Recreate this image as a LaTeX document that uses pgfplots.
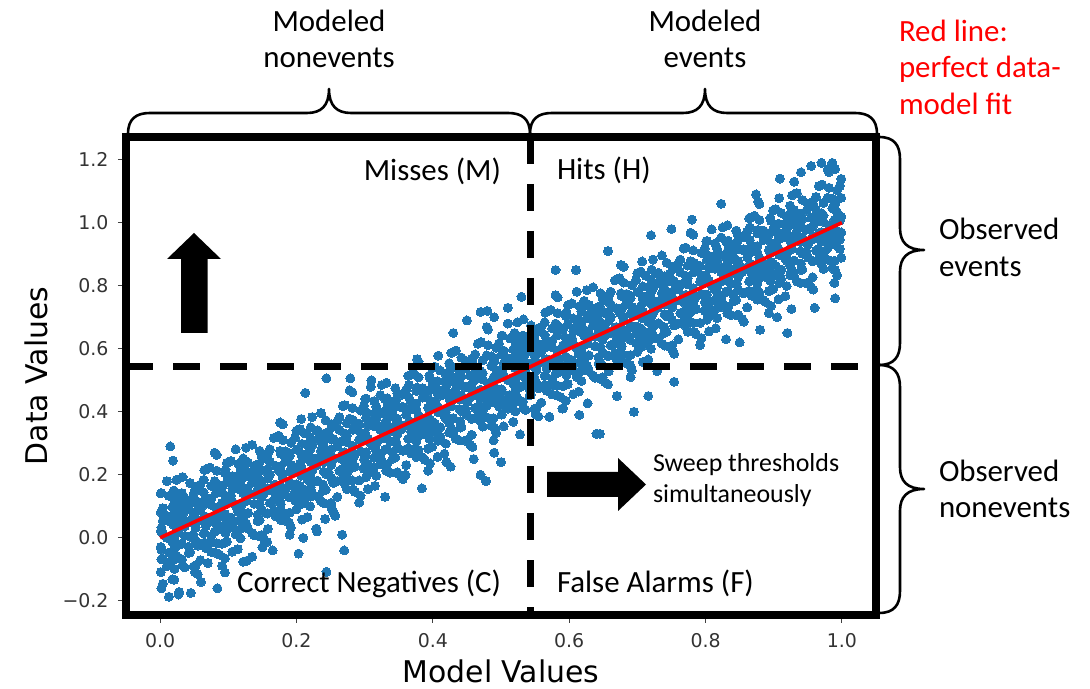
\documentclass[border=0pt]{standalone}
\usepackage{pgfplots}
\pgfplotsset{compat=1.18}
\usepackage{pgfplotstable}
\usepackage{fontspec}
\setmainfont{Carlito}
\newfontfamily\djv{DejaVu Sans}
\definecolor{mblue}{HTML}{1F77B4}

\pgfplotstableread{
x a b c d e
0.001 -0.029 0.081 -0.109 0.021 0.141
0.004 0.054 -0.066 0.014 -0.146 0.094
0.013 0.003 0.133 -0.047 0.053 -0.077
0.021 0.121 0.001 0.081 -0.099 -0.019
0.024 -0.056 0.054 0.184 0.014 0.094
0.032 0.052 -0.068 0.112 -0.018 0.142
0.036 -0.094 0.036 0.086 0.126 0.006
0.044 0.114 0.004 -0.046 0.174 0.054
0.052 -0.008 0.162 0.082 0.032 -0.088
0.055 0.055 -0.025 0.155 0.115 -0.115
0.064 0.184 0.014 0.054 0.104 0.144
0.067 -0.033 0.127 0.037 0.217 0.067
0.075 0.105 -0.045 0.165 0.005 0.125
0.083 0.043 0.093 0.213 -0.017 0.263
0.087 0.167 -0.053 0.067 0.157 0.027
0.095 0.075 0.135 -0.065 0.205 0.115
0.098 0.068 0.178 -0.012 0.118 0.238
0.106 0.156 0.036 0.116 -0.044 0.196
0.115 0.105 0.235 0.055 0.155 0.025
0.118 0.218 0.098 0.178 -0.002 0.078
0.126 0.046 0.156 0.286 0.116 0.196
0.129 0.149 0.029 0.209 0.079 0.239
0.138 0.008 0.138 0.188 0.228 0.108
0.146 0.216 0.106 0.056 0.276 0.156
0.149 0.089 0.259 0.179 0.129 0.009
0.157 0.157 0.077 0.257 0.217 -0.013
0.161 0.281 0.111 0.151 0.201 0.241
0.169 0.069 0.229 0.139 0.319 0.169
0.177 0.207 0.057 0.267 0.107 0.227
0.180 0.140 0.190 0.310 0.080 0.360
0.189 0.269 0.049 0.169 0.259 0.129
0.192 0.172 0.232 0.032 0.302 0.212
0.200 0.170 0.280 0.090 0.220 0.340
0.208 0.258 0.138 0.218 0.058 0.298
0.212 0.202 0.332 0.152 0.252 0.122
0.220 0.320 0.200 0.280 0.100 0.180
0.223 0.143 0.253 0.383 0.213 0.293
0.231 0.251 0.131 0.311 0.181 0.341
0.240 0.110 0.240 0.290 0.330 0.210
0.243 0.313 0.203 0.153 0.373 0.253
0.251 0.191 0.361 0.281 0.231 0.111
0.254 0.254 0.174 0.354 0.314 0.084
0.263 0.383 0.213 0.253 0.303 0.343
0.271 0.171 0.331 0.241 0.421 0.271
0.274 0.304 0.154 0.364 0.204 0.324
0.282 0.242 0.292 0.412 0.182 0.462
0.286 0.366 0.146 0.266 0.356 0.226
0.294 0.274 0.334 0.134 0.404 0.314
0.302 0.272 0.382 0.192 0.322 0.442
0.305 0.355 0.235 0.315 0.155 0.395
0.314 0.304 0.434 0.254 0.354 0.224
0.317 0.417 0.297 0.377 0.197 0.277
0.325 0.245 0.355 0.485 0.315 0.395
0.333 0.353 0.233 0.413 0.283 0.443
0.337 0.207 0.337 0.387 0.427 0.307
0.345 0.415 0.305 0.255 0.475 0.355
0.348 0.288 0.458 0.378 0.328 0.208
0.356 0.356 0.276 0.456 0.416 0.186
0.365 0.485 0.315 0.355 0.405 0.445
0.368 0.268 0.428 0.338 0.518 0.368
0.376 0.406 0.256 0.466 0.306 0.426
0.379 0.339 0.389 0.509 0.279 0.559
0.388 0.468 0.248 0.368 0.458 0.328
0.396 0.376 0.436 0.236 0.506 0.416
0.399 0.369 0.479 0.289 0.419 0.539
0.407 0.457 0.337 0.417 0.257 0.497
0.411 0.401 0.531 0.351 0.451 0.321
0.419 0.519 0.399 0.479 0.299 0.379
0.427 0.347 0.457 0.587 0.417 0.497
0.430 0.450 0.330 0.510 0.380 0.540
0.439 0.309 0.439 0.489 0.529 0.409
0.442 0.512 0.402 0.352 0.572 0.452
0.450 0.390 0.560 0.480 0.430 0.310
0.458 0.458 0.378 0.558 0.518 0.288
0.462 0.582 0.412 0.452 0.502 0.542
0.470 0.370 0.530 0.440 0.620 0.470
0.473 0.503 0.353 0.563 0.403 0.523
0.481 0.441 0.491 0.611 0.381 0.661
0.490 0.570 0.350 0.470 0.560 0.430
0.493 0.473 0.533 0.333 0.603 0.513
0.501 0.471 0.581 0.391 0.521 0.641
0.504 0.554 0.434 0.514 0.354 0.594
0.513 0.503 0.633 0.453 0.553 0.423
0.521 0.621 0.501 0.581 0.401 0.481
0.524 0.444 0.554 0.684 0.514 0.594
0.532 0.552 0.432 0.612 0.482 0.642
0.536 0.406 0.536 0.586 0.626 0.506
0.544 0.614 0.504 0.454 0.674 0.554
0.552 0.492 0.662 0.582 0.532 0.412
0.555 0.555 0.475 0.655 0.615 0.385
0.564 0.684 0.514 0.554 0.604 0.644
0.567 0.467 0.627 0.537 0.717 0.567
0.575 0.605 0.455 0.665 0.505 0.625
0.583 0.543 0.593 0.713 0.483 0.763
0.587 0.667 0.447 0.567 0.657 0.527
0.595 0.575 0.635 0.435 0.705 0.615
0.598 0.568 0.678 0.488 0.618 0.738
0.606 0.656 0.536 0.616 0.456 0.696
0.615 0.605 0.735 0.555 0.655 0.525
0.618 0.718 0.598 0.678 0.498 0.578
0.626 0.546 0.656 0.786 0.616 0.696
0.629 0.649 0.529 0.709 0.579 0.739
0.638 0.508 0.638 0.688 0.728 0.608
0.646 0.716 0.606 0.556 0.776 0.656
0.649 0.589 0.759 0.679 0.629 0.509
0.657 0.657 0.577 0.757 0.717 0.487
0.661 0.781 0.611 0.651 0.701 0.741
0.669 0.569 0.729 0.639 0.819 0.669
0.677 0.707 0.557 0.767 0.607 0.727
0.680 0.640 0.690 0.810 0.580 0.860
0.689 0.769 0.549 0.669 0.759 0.629
0.692 0.672 0.732 0.532 0.802 0.712
0.700 0.670 0.780 0.590 0.720 0.840
0.708 0.758 0.638 0.718 0.558 0.798
0.712 0.702 0.832 0.652 0.752 0.622
0.720 0.820 0.700 0.780 0.600 0.680
0.723 0.643 0.753 0.883 0.713 0.793
0.731 0.751 0.631 0.811 0.681 0.841
0.740 0.610 0.740 0.790 0.830 0.710
0.743 0.813 0.703 0.653 0.873 0.753
0.751 0.691 0.861 0.781 0.731 0.611
0.754 0.754 0.674 0.854 0.814 0.584
0.763 0.883 0.713 0.753 0.803 0.843
0.771 0.671 0.831 0.741 0.921 0.771
0.774 0.804 0.654 0.864 0.704 0.824
0.782 0.742 0.792 0.912 0.682 0.962
0.786 0.866 0.646 0.766 0.856 0.726
0.794 0.774 0.834 0.634 0.904 0.814
0.802 0.772 0.882 0.692 0.822 0.942
0.805 0.855 0.735 0.815 0.655 0.895
0.814 0.804 0.934 0.754 0.854 0.724
0.817 0.917 0.797 0.877 0.697 0.777
0.825 0.745 0.855 0.985 0.815 0.895
0.833 0.853 0.733 0.913 0.783 0.943
0.837 0.707 0.837 0.887 0.927 0.807
0.845 0.915 0.805 0.755 0.975 0.855
0.848 0.788 0.958 0.878 0.828 0.708
0.856 0.856 0.776 0.956 0.916 0.686
0.865 0.985 0.815 0.855 0.905 0.945
0.868 0.768 0.928 0.838 1.018 0.868
0.876 0.906 0.756 0.966 0.806 0.926
0.879 0.839 0.889 1.009 0.779 1.059
0.888 0.968 0.748 0.868 0.958 0.828
0.896 0.876 0.936 0.736 1.006 0.916
0.899 0.869 0.979 0.789 0.919 1.039
0.907 0.957 0.837 0.917 0.757 0.997
0.911 0.901 1.031 0.851 0.951 0.821
0.919 1.019 0.899 0.979 0.799 0.879
0.927 0.847 0.957 1.087 0.917 0.997
0.930 0.950 0.830 1.010 0.880 1.040
0.939 0.809 0.939 0.989 1.029 0.909
0.942 1.012 0.902 0.852 1.072 0.952
0.950 0.890 1.060 0.980 0.930 0.810
0.958 0.958 0.878 1.058 1.018 0.788
0.962 1.082 0.912 0.952 1.002 1.042
0.970 0.870 1.030 0.940 1.120 0.970
0.973 1.003 0.853 1.063 0.903 1.023
0.981 0.941 0.991 1.111 0.881 1.161
0.990 1.070 0.850 0.970 1.060 0.930
0.993 0.973 1.033 0.833 1.103 1.013
0.999 0.969 1.079 0.889 1.019 1.139
}\tA

\pgfplotstableread{
x a b c d
0.002 -0.068 0.142 -0.038 0.032
0.010 0.070 0.000 -0.090 0.180
0.018 -0.012 0.098 -0.132 0.068
0.020 0.150 -0.040 0.040 -0.070
0.028 -0.022 0.028 0.138 -0.172
0.033 0.103 -0.087 0.073 0.193
0.042 -0.048 0.092 -0.028 0.052
0.049 0.079 0.139 -0.091 0.009
0.051 0.041 -0.109 0.111 0.151
0.059 0.169 0.089 -0.021 -0.071
0.065 -0.015 0.215 0.065 0.015
0.073 0.113 -0.017 0.223 0.053
0.080 0.020 0.180 0.070 0.270
0.082 0.172 0.052 -0.048 0.142
0.091 -0.019 0.111 0.161 -0.089
0.096 0.106 0.046 0.216 0.016
0.104 0.034 0.244 0.064 0.134
0.111 0.171 0.101 0.011 0.281
0.114 0.084 0.194 -0.036 0.164
0.122 0.252 0.062 0.142 0.032
0.127 0.077 0.127 0.237 -0.073
0.135 0.205 0.015 0.175 0.295
0.143 0.053 0.193 0.073 0.153
0.145 0.175 0.235 0.005 0.105
0.153 0.143 -0.007 0.213 0.253
0.158 0.268 0.188 0.078 0.028
0.167 0.087 0.317 0.167 0.117
0.174 0.214 0.084 0.324 0.154
0.176 0.116 0.276 0.166 0.366
0.184 0.274 0.154 0.054 0.244
0.190 0.080 0.210 0.260 0.010
0.198 0.208 0.148 0.318 0.118
0.205 0.135 0.345 0.165 0.235
0.207 0.267 0.197 0.107 0.377
0.216 0.186 0.296 0.066 0.266
0.221 0.351 0.161 0.241 0.131
0.229 0.179 0.229 0.339 0.029
0.236 0.306 0.116 0.276 0.396
0.239 0.149 0.289 0.169 0.249
0.247 0.277 0.337 0.107 0.207
0.252 0.242 0.092 0.312 0.352
0.260 0.370 0.290 0.180 0.130
0.268 0.188 0.418 0.268 0.218
0.270 0.310 0.180 0.420 0.250
0.278 0.218 0.378 0.268 0.468
0.283 0.373 0.253 0.153 0.343
0.292 0.182 0.312 0.362 0.112
0.299 0.309 0.249 0.419 0.219
0.301 0.231 0.441 0.261 0.331
0.309 0.369 0.299 0.209 0.479
0.315 0.285 0.395 0.165 0.365
0.323 0.453 0.263 0.343 0.233
0.330 0.280 0.330 0.440 0.130
0.332 0.402 0.212 0.372 0.492
0.341 0.251 0.391 0.271 0.351
0.346 0.376 0.436 0.206 0.306
0.354 0.344 0.194 0.414 0.454
0.361 0.471 0.391 0.281 0.231
0.364 0.284 0.514 0.364 0.314
0.372 0.412 0.282 0.522 0.352
0.377 0.317 0.477 0.367 0.567
0.385 0.475 0.355 0.255 0.445
0.393 0.283 0.413 0.463 0.213
0.395 0.405 0.345 0.515 0.315
0.403 0.333 0.543 0.363 0.433
0.408 0.468 0.398 0.308 0.578
0.417 0.387 0.497 0.267 0.467
0.424 0.554 0.364 0.444 0.334
0.426 0.376 0.426 0.536 0.226
0.434 0.504 0.314 0.474 0.594
0.440 0.350 0.490 0.370 0.450
0.448 0.478 0.538 0.308 0.408
0.455 0.445 0.295 0.515 0.555
0.457 0.567 0.487 0.377 0.327
0.466 0.386 0.616 0.466 0.416
0.471 0.511 0.381 0.621 0.451
0.479 0.419 0.579 0.469 0.669
0.486 0.576 0.456 0.356 0.546
0.489 0.379 0.509 0.559 0.309
0.497 0.507 0.447 0.617 0.417
0.502 0.432 0.642 0.462 0.532
0.510 0.570 0.500 0.410 0.680
0.518 0.488 0.598 0.368 0.568
0.520 0.650 0.460 0.540 0.430
0.528 0.478 0.528 0.638 0.328
0.533 0.603 0.413 0.573 0.693
0.542 0.452 0.592 0.472 0.552
0.549 0.579 0.639 0.409 0.509
0.551 0.541 0.391 0.611 0.651
0.559 0.669 0.589 0.479 0.429
0.565 0.485 0.715 0.565 0.515
0.573 0.613 0.483 0.723 0.553
0.580 0.520 0.680 0.570 0.770
0.582 0.672 0.552 0.452 0.642
0.591 0.481 0.611 0.661 0.411
0.596 0.606 0.546 0.716 0.516
0.604 0.534 0.744 0.564 0.634
0.611 0.671 0.601 0.511 0.781
0.614 0.584 0.694 0.464 0.664
0.622 0.752 0.562 0.642 0.532
0.627 0.577 0.627 0.737 0.427
0.635 0.705 0.515 0.675 0.795
0.643 0.553 0.693 0.573 0.653
0.645 0.675 0.735 0.505 0.605
0.653 0.643 0.493 0.713 0.753
0.658 0.768 0.688 0.578 0.528
0.667 0.587 0.817 0.667 0.617
0.674 0.714 0.584 0.824 0.654
0.676 0.616 0.776 0.666 0.866
0.684 0.774 0.654 0.554 0.744
0.690 0.580 0.710 0.760 0.510
0.698 0.708 0.648 0.818 0.618
0.705 0.635 0.845 0.665 0.735
0.707 0.767 0.697 0.607 0.877
0.716 0.686 0.796 0.566 0.766
0.721 0.851 0.661 0.741 0.631
0.729 0.679 0.729 0.839 0.529
0.736 0.806 0.616 0.776 0.896
0.739 0.649 0.789 0.669 0.749
0.747 0.777 0.837 0.607 0.707
0.752 0.742 0.592 0.812 0.852
0.760 0.870 0.790 0.680 0.630
0.768 0.688 0.918 0.768 0.718
0.770 0.810 0.680 0.920 0.750
0.778 0.718 0.878 0.768 0.968
0.783 0.873 0.753 0.653 0.843
0.792 0.682 0.812 0.862 0.612
0.799 0.809 0.749 0.919 0.719
0.801 0.731 0.941 0.761 0.831
0.809 0.869 0.799 0.709 0.979
0.815 0.785 0.895 0.665 0.865
0.823 0.953 0.763 0.843 0.733
0.830 0.780 0.830 0.940 0.630
0.832 0.902 0.712 0.872 0.992
0.841 0.751 0.891 0.771 0.851
0.846 0.876 0.936 0.706 0.806
0.854 0.844 0.694 0.914 0.954
0.861 0.971 0.891 0.781 0.731
0.864 0.784 1.014 0.864 0.814
0.872 0.912 0.782 1.022 0.852
0.877 0.817 0.977 0.867 1.067
0.885 0.975 0.855 0.755 0.945
0.893 0.783 0.913 0.963 0.713
0.895 0.905 0.845 1.015 0.815
0.903 0.833 1.043 0.863 0.933
0.908 0.968 0.898 0.808 1.078
0.917 0.887 0.997 0.767 0.967
0.924 1.054 0.864 0.944 0.834
0.926 0.876 0.926 1.036 0.726
0.934 1.004 0.814 0.974 1.094
0.940 0.850 0.990 0.870 0.950
0.948 0.978 1.038 0.808 0.908
0.955 0.945 0.795 1.015 1.055
0.957 1.067 0.987 0.877 0.827
0.966 0.886 1.116 0.966 0.916
0.971 1.011 0.881 1.121 0.951
0.979 0.919 1.079 0.969 1.169
0.986 1.076 0.956 0.856 1.046
0.989 0.879 1.009 1.059 0.809
0.997 1.007 0.947 1.117 0.917
}\tB

\pgfplotstableread{
x y
0.002 -0.160
0.013 -0.187
0.027 -0.180
0.021 -0.133
0.084 -0.160
0.070 -0.080
0.122 -0.076
0.135 -0.060
0.150 -0.030
0.165 -0.040
0.045 -0.175
0.060 -0.140
0.095 -0.110
0.203 -0.050
0.244 -0.108
0.267 0.010
0.270 -0.040
0.257 0.070
0.242 0.060
0.230 0.020
0.210 0.000
0.015 0.290
0.019 0.245
0.213 0.460
0.244 0.506
0.279 0.506
0.310 0.500
0.384 0.157
0.478 0.180
0.470 0.200
0.500 0.240
0.490 0.270
0.460 0.250
0.420 0.240
0.360 0.200
0.470 0.717
0.480 0.720
0.530 0.765
0.430 0.650
0.490 0.700
0.510 0.730
0.450 0.690
0.640 0.330
0.645 0.330
0.695 0.400
0.754 0.495
0.716 0.450
0.571 0.384
0.615 0.390
0.590 0.410
0.670 0.450
0.823 1.060
0.657 0.910
0.986 1.190
0.955 1.180
0.874 1.090
0.909 1.140
0.780 1.010
0.580 0.850
0.610 0.850
0.970 1.190
0.990 1.170
0.940 1.160
0.930 1.130
0.720 0.960
0.750 0.980
0.920 0.650
0.880 0.660
0.905 0.700
0.960 0.730
0.990 0.760
0.850 0.620
}\tC

\begin{document}
\begin{tikzpicture}
\path[use as bounding box] (0,0) rectangle (1090bp,689bp);
\begin{axis}[
  at={(126bp,74bp)}, anchor=south west,
  scale only axis, width=750bp, height=478bp,
  xmin=-0.05, xmax=1.05, ymin=-0.245, ymax=1.272,
  axis line style={draw=none},
  clip=false,
  clip marker paths=true,
  tick pos=left,
  tick align=outside,
  major tick length=8bp,
  tick style={line width=0.9bp, black!75},
  xtick={0,0.2,0.4,0.6,0.8,1.0},
  xticklabels={0.0,0.2,0.4,0.6,0.8,1.0},
  ytick={-0.2,0,0.2,0.4,0.6,0.8,1.0,1.2},
  yticklabels={−0.2,0.0,0.2,0.4,0.6,0.8,1.0,1.2},
  ticklabel style={font=\djv\fontsize{19}{22}\selectfont, text=black!80},
  xticklabel shift=7bp,
  yticklabel shift=6bp,
  xlabel={Model Values},
  ylabel={Data Values},
  label style={font=\djv\fontsize{30}{36}\selectfont},
  xlabel style={at={(axis description cs:0.5,-0.117)}, anchor=center},
  ylabel style={at={(axis description cs:-0.12,0.5)}, anchor=center},
  sc/.style={only marks, mark=*, color=mblue, mark size=4.5bp, mark options={solid, draw=mblue, fill=mblue, line width=0pt}},
]
\addplot[sc] table[x=x,y=a]{\tA};
\addplot[sc] table[x=x,y=b]{\tA};
\addplot[sc] table[x=x,y=c]{\tA};
\addplot[sc] table[x=x,y=d]{\tA};
\addplot[sc] table[x=x,y=e]{\tA};
\addplot[sc] table[x=x,y=a]{\tB};
\addplot[sc] table[x=x,y=b]{\tB};
\addplot[sc] table[x=x,y=c]{\tB};
\addplot[sc] table[x=x,y=d]{\tB};
\addplot[sc] table[x=x,y=y]{\tC};
\addplot[red, line width=3.6bp] coordinates {(0,0) (1,1)};
\addplot[black, line width=7bp, dash pattern=on 27bp off 20bp] coordinates {(-0.05,0.543) (1.05,0.543)};
\addplot[black, line width=7bp, dash pattern=on 27bp off 20bp] coordinates {(0.543,1.272) (0.543,-0.245)};
\draw[line width=7.5bp] (rel axis cs:0,0) rectangle (rel axis cs:1,1);
\end{axis}

\begin{scope}[shift={(0bp,689bp)}, x=1bp, y=-1bp, every node/.style={inner sep=0pt, outer sep=0pt}]
  % braces
  \draw[line width=2.6bp, line cap=round, line join=round]
    (128,134) .. controls (128,119) and (136,113) .. (150,113) -- (307,113)
    .. controls (321,113) and (329,106) .. (329,89)
    .. controls (329,106) and (337,113) .. (351,113) -- (508,113)
    .. controls (522,113) and (530,119) .. (530,134);
  \draw[line width=2.6bp, line cap=round, line join=round]
    (530,134) .. controls (530,119) and (538,113) .. (552,113) -- (683,113)
    .. controls (697,113) and (705,106) .. (705,89)
    .. controls (705,106) and (713,113) .. (727,113) -- (855,113)
    .. controls (869,113) and (877,119) .. (877,134);
  \draw[line width=2.6bp, line cap=round, line join=round]
    (879,137) .. controls (894,137) and (900,145) .. (900,159) -- (900,228)
    .. controls (900,242) and (907,250) .. (924,250)
    .. controls (907,250) and (900,258) .. (900,272) -- (900,343)
    .. controls (900,357) and (894,365) .. (879,365);
  \draw[line width=2.6bp, line cap=round, line join=round]
    (879,365) .. controls (894,365) and (900,373) .. (900,387) -- (900,467)
    .. controls (900,481) and (907,489) .. (924,489)
    .. controls (907,489) and (900,497) .. (900,511) -- (900,591)
    .. controls (900,605) and (894,613) .. (879,613);
  % arrows
  \fill (181,333) -- (181,259) -- (167,259) -- (194,233) -- (221,259) -- (207.5,259) -- (207.5,333) -- cycle;
  \fill (547,472) -- (618,472) -- (618,458) -- (646,484.5) -- (618,511) -- (618,497) -- (547,497) -- cycle;
  % texts
  \begin{scope}[every node/.append style={font=\fontsize{31}{37}\selectfont}]
    \node[anchor=base] at (329,32) {Modeled};
    \node[anchor=base] at (329,68) {nonevents};
    \node[anchor=base] at (705,32) {Modeled};
    \node[anchor=base] at (705,68) {events};
    \node[anchor=base west, text=red] at (899,42) {Red line:};
    \node[anchor=base west, text=red] at (899,78) {perfect data-};
    \node[anchor=base west, text=red] at (899,115) {model fit};
    \node[anchor=base west] at (939,240) {Observed};
    \node[anchor=base west] at (939,277) {events};
    \node[anchor=base west] at (939,482) {Observed};
    \node[anchor=base west] at (939,518) {nonevents};
    \node[anchor=base east] at (501,181) {Misses (M)};
    \node[anchor=base west] at (557,180) {Hits (H)};
    \node[anchor=base east] at (501,593) {Correct Negatives (C)};
    \node[anchor=base west] at (557,593) {False Alarms (F)};
  \end{scope}
  \begin{scope}[every node/.append style={font=\fontsize{26}{31}\selectfont}]
    \node[anchor=base west] at (653,472) {Sweep thresholds};
    \node[anchor=base west] at (653,503) {simultaneously};
  \end{scope}
\end{scope}
\end{tikzpicture}
\end{document}
